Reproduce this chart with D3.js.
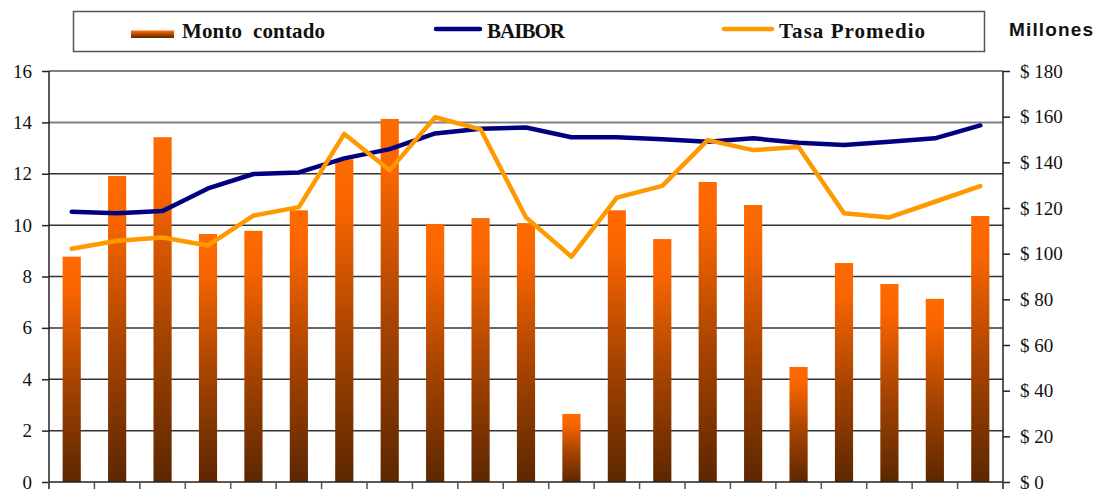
<!DOCTYPE html>
<html><head><meta charset="utf-8">
<script src="https://cdn.jsdelivr.net/npm/d3@7/dist/d3.min.js"></script>
<style>body{margin:0;background:#fff}svg{display:block}</style>
</head><body>
<svg id="c" width="1098" height="489"></svg>
<script>
const categories = d3.range(1, 22).map(String);
const montoContado = [98.7,134,151,108.6,110,119,141.3,159,113,115.6,113.4,29.8,119,106.4,131.4,121.3,50.4,95.9,86.7,80.2,116.5];
const baibor = [10.52,10.46,10.55,11.43,11.99,12.05,12.6,12.96,13.57,13.75,13.8,13.42,13.42,13.34,13.25,13.38,13.21,13.12,13.25,13.38,13.88];
const tasaPromedio = [9.08,9.39,9.52,9.21,10.37,10.7,13.55,12.14,14.2,13.73,10.3,8.77,11.07,11.53,13.31,12.92,13.04,10.46,10.3,10.91,11.52];
const leftTicks = d3.range(0, 17, 2);
const rightTicks = d3.range(0, 181, 20);
const seriesNames = ["Monto  contado", "BAIBOR", "Tasa Promedio"];

const svg = d3.select("#c");
const L = 49, R = 1003, T = 71, B = 482;
const serif = "'Liberation Serif','DejaVu Serif',serif";

const x = d3.scaleBand().domain(categories).range([L, R]).paddingInner(0.6).paddingOuter(0.3);
const xb = d3.scaleBand().domain(categories).range([L, R]);
const yL = d3.scaleLinear().domain([0, 16]).range([B, T]);
const yR = d3.scaleLinear().domain([0, 180]).range([B, T]);

const defs = svg.append("defs");
const g = defs.append("linearGradient").attr("id", "bg").attr("x1", 0).attr("y1", 0).attr("x2", 0).attr("y2", 1);
g.append("stop").attr("offset", "0%").attr("stop-color", "#ff6a00");
g.append("stop").attr("offset", "15%").attr("stop-color", "#f86500");
g.append("stop").attr("offset", "55%").attr("stop-color", "#a84400");
g.append("stop").attr("offset", "100%").attr("stop-color", "#5c2700");

// gridlines
svg.append("g").selectAll("line").data(leftTicks.filter(d => d > 0)).join("line")
  .attr("x1", L).attr("x2", R).attr("y1", d => yL(d)).attr("y2", d => yL(d))
  .attr("stroke", d => d >= 14 ? "#808080" : "#333").attr("stroke-width", d => d >= 14 ? 2 : 1.5);

// bars
svg.append("g").selectAll("rect").data(montoContado).join("rect")
  .attr("x", (d, i) => x(categories[i])).attr("width", x.bandwidth())
  .attr("y", d => yR(d)).attr("height", d => B - yR(d)).attr("fill", "url(#bg)");

// axes
const axL = svg.append("g").attr("transform", `translate(${L},0)`)
  .call(d3.axisLeft(yL).tickValues(leftTicks).tickSize(7).tickPadding(10));
const axR = svg.append("g").attr("transform", `translate(${R},0)`)
  .call(d3.axisRight(yR).tickValues(rightTicks).tickSize(7).tickPadding(10).tickFormat(d => "$ " + d));
const axB = svg.append("g").attr("transform", `translate(0,${B})`)
  .call(d3.axisBottom(xb).tickValues([]).tickSize(0));
svg.append("g").selectAll("line").data(d3.range(categories.length + 1)).join("line")
  .attr("x1", i => L + i * xb.step()).attr("x2", i => L + i * xb.step())
  .attr("y1", B).attr("y2", B + 8).attr("stroke", "#555").attr("stroke-width", 1.5);
[axL, axR, axB].forEach(a => {
  a.select(".domain").attr("stroke", "#222").attr("stroke-width", 1.5);
  a.selectAll(".tick line").attr("stroke", "#222").attr("stroke-width", 1.5);
  a.selectAll("text").attr("font-family", serif).attr("font-size", 19).attr("fill", "#111");
});
axL.select(".domain").attr("d", `M0,${T}V489`);
axR.select(".domain").attr("d", `M0,${T}V489`);
axB.select(".domain").attr("d", `M${L},0H${R}`);

// lines
const line = d3.line().x((d, i) => xb(categories[i]) + xb.bandwidth() / 2).y(d => yL(d));
svg.append("path").datum(baibor).attr("d", line).attr("fill", "none")
  .attr("stroke", "#000080").attr("stroke-width", 4.5).attr("stroke-linejoin", "round").attr("stroke-linecap", "round");
svg.append("path").datum(tasaPromedio).attr("d", line).attr("fill", "none")
  .attr("stroke", "#ff9900").attr("stroke-width", 4.5).attr("stroke-linejoin", "round").attr("stroke-linecap", "round");

// legend
const lg = svg.append("g");
lg.append("rect").attr("x", 73.5).attr("y", 11.5).attr("width", 911).attr("height", 40)
  .attr("fill", "#fff").attr("stroke", "#555").attr("stroke-width", 1.5);
lg.append("rect").attr("x", 131).attr("y", 30.5).attr("width", 43).attr("height", 7.5).attr("fill", "url(#bg)");
lg.append("line").attr("x1", 436).attr("x2", 480).attr("y1", 29).attr("y2", 29)
  .attr("stroke", "#000080").attr("stroke-width", 4.5).attr("stroke-linecap", "round");
lg.append("line").attr("x1", 724).attr("x2", 772).attr("y1", 29).attr("y2", 29)
  .attr("stroke", "#ff9900").attr("stroke-width", 4.5).attr("stroke-linecap", "round");
const lx = [182, 487, 779];
const lw = [143, 78, 146];
lg.selectAll("text").data(seriesNames).join("text")
  .attr("x", (d, i) => lx[i]).attr("y", 37.5).text(d => d)
  .attr("textLength", (d, i) => lw[i]).attr("lengthAdjust", "spacing")
  .attr("font-family", serif).attr("font-weight", "bold").attr("font-size", 21).attr("fill", "#111")
  .attr("xml:space", "preserve");

svg.append("text").attr("x", 1009).attr("y", 36).text("Millones")
  .attr("textLength", 84).attr("lengthAdjust", "spacing")
  .attr("font-family", "'Liberation Sans',Arial,sans-serif").attr("font-weight", "bold")
  .attr("font-size", 19).attr("fill", "#111");
</script>
</body></html>
